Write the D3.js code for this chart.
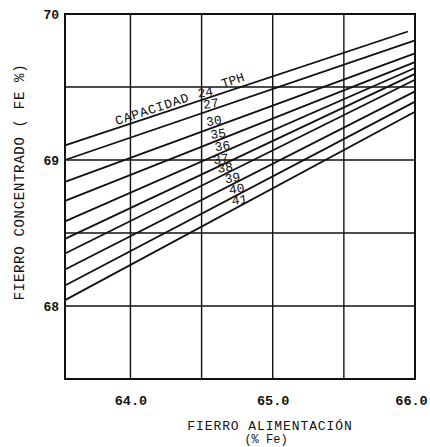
<!DOCTYPE html>
<html>
<head>
<meta charset="utf-8">
<script src="https://cdn.jsdelivr.net/npm/d3@7"></script>
<style>
  html, body { margin: 0; padding: 0; background: #fff; }
  svg { display: block; }
  text { font-family: "Liberation Mono", "DejaVu Sans Mono", monospace; fill: #111; }
</style>
</head>
<body>
<div id="chart"></div>
<script>
// capacity lines (TPH) and their Fe concentrate at the left and right ends of the chart
const capacities = [24, 27, 30, 35, 36, 37, 38, 39, 40, 41];
const feedStart = [63.54, 63.54, 63.54, 63.54, 63.54, 63.54, 63.54, 63.54, 63.54, 63.54];
const feedEnd = [65.95, 66.0, 66.0, 66.0, 66.0, 66.0, 66.0, 66.0, 66.0, 66.0];
const concStart = [69.10, 69.00, 68.85, 68.72, 68.58, 68.46, 68.36, 68.25, 68.14, 68.04];
const concEnd = [69.88, 69.82, 69.73, 69.67, 69.63, 69.59, 69.55, 69.47, 69.40, 69.33];

const xTickLabels = [64.0, 65.0, 66.0];
const yTickLabels = [68, 69, 70];
const xGrid = [64.0, 64.5, 65.0, 65.5];
const yGrid = [68, 68.5, 69, 69.5];

const xTitle = 'FIERRO ALIMENTACIÓN';
const xUnits = '(% Fe)';
const yTitle = 'FIERRO CONCENTRADO  ( FE %)';

const width = 430;
const height = 447;
const margin = { top: 14, right: 15, bottom: 68, left: 65 };

const svg = d3.select('#chart')
  .append('svg')
  .attr('width', width)
  .attr('height', height);

const x = d3.scaleLinear()
  .domain([63.54, 66.0])
  .range([margin.left, width - margin.right]);

const y = d3.scaleLinear()
  .domain([67.5, 70])
  .range([height - margin.bottom, margin.top]);

// grid
svg.append('g')
  .selectAll('line')
  .data(xGrid)
  .enter()
  .append('line')
  .attr('x1', d => x(d)).attr('x2', d => x(d))
  .attr('y1', y(70)).attr('y2', y(67.5))
  .attr('stroke', '#111')
  .attr('stroke-width', 1.4);

svg.append('g')
  .selectAll('line')
  .data(yGrid)
  .enter()
  .append('line')
  .attr('x1', x(63.54)).attr('x2', x(66.0))
  .attr('y1', d => y(d)).attr('y2', d => y(d))
  .attr('stroke', '#111')
  .attr('stroke-width', 1.4);

// frame
svg.append('rect')
  .attr('x', x(63.54))
  .attr('y', y(70))
  .attr('width', x(66.0) - x(63.54))
  .attr('height', y(67.5) - y(70))
  .attr('fill', 'none')
  .attr('stroke', '#111')
  .attr('stroke-width', 2);

// axes (labels only)
svg.append('g')
  .attr('transform', `translate(0,${y(67.5)})`)
  .call(d3.axisBottom(x).tickValues(xTickLabels).tickFormat(d3.format('.1f')).tickSize(0).tickPadding(16))
  .call(g => g.select('.domain').remove())
  .call(g => g.selectAll('text')
    .style('font-family', '"Liberation Mono", monospace')
    .style('font-size', '13.5px')
    .style('font-weight', 'bold')
    .attr('fill', '#111'))
  .call(g => g.selectAll('.tick text').filter(d => d === 66.0).attr('dx', -4));

svg.append('g')
  .attr('transform', `translate(${x(63.54)},0)`)
  .call(d3.axisLeft(y).tickValues(yTickLabels).tickFormat(d3.format('d')).tickSize(0).tickPadding(6))
  .call(g => g.select('.domain').remove())
  .call(g => g.selectAll('text')
    .style('font-family', '"Liberation Mono", monospace')
    .style('font-size', '13px')
    .style('font-weight', 'bold')
    .attr('fill', '#111'));

// capacity lines
const lines = capacities.map((c, i) => ({
  cap: c,
  pts: [[feedStart[i], concStart[i]], [feedEnd[i], concEnd[i]]]
}));

const line = d3.line()
  .x(d => x(d[0]))
  .y(d => y(d[1]));

svg.append('g')
  .selectAll('path')
  .data(lines)
  .enter()
  .append('path')
  .attr('d', d => line(d.pts))
  .attr('fill', 'none')
  .attr('stroke', '#111')
  .attr('stroke-width', 1.8);

// value on a capacity line at a given feed grade
const at = (d, fe) => {
  const [[x0, y0], [x1, y1]] = d.pts;
  return y0 + (y1 - y0) * (fe - x0) / (x1 - x0);
};

// number labels placed along the diagonal near 64.5 %
const labelFe = [64.53, 64.57, 64.59, 64.62, 64.65, 64.64, 64.67, 64.72, 64.75, 64.77];

svg.append('g')
  .selectAll('text')
  .data(lines)
  .enter()
  .append('text')
  .attr('transform', (d, i) => `translate(${x(labelFe[i])},${y(at(d, labelFe[i])) - 2}) rotate(-8)`)
  .attr('text-anchor', 'middle')
  .style('font-size', '13px')
  .text(d => d.cap);

// CAPACIDAD ... TPH along the 24 TPH line
const first = lines[0];
const ang = Math.atan2(y(at(first, 64.0)) - y(at(first, 64.5)), x(64.5) - x(64.0)) * 180 / Math.PI;

svg.append('text')
  .attr('transform', `translate(${x(64.42)},${y(at(first, 64.42)) - 3}) rotate(${-ang})`)
  .attr('text-anchor', 'end')
  .style('font-size', '13px')
  .style('letter-spacing', '0.8px')
  .text('CAPACIDAD');

svg.append('text')
  .attr('transform', `translate(${x(64.65)},${y(at(first, 64.65)) - 5}) rotate(${-ang})`)
  .attr('text-anchor', 'start')
  .style('font-size', '13px')
  .text('TPH');

// axis titles
svg.append('text')
  .attr('x', 270)
  .attr('y', 430)
  .attr('text-anchor', 'middle')
  .style('font-size', '13px')
  .style('letter-spacing', '0.9px')
  .text(xTitle);

svg.append('text')
  .attr('x', 266)
  .attr('y', 443)
  .attr('text-anchor', 'middle')
  .style('font-size', '12px')
  .text(xUnits);

svg.append('text')
  .attr('transform', 'translate(24,182) rotate(-90)')
  .attr('text-anchor', 'middle')
  .style('font-size', '14px')
  .style('letter-spacing', '0.7px')
  .text(yTitle);
</script>
</body>
</html>
